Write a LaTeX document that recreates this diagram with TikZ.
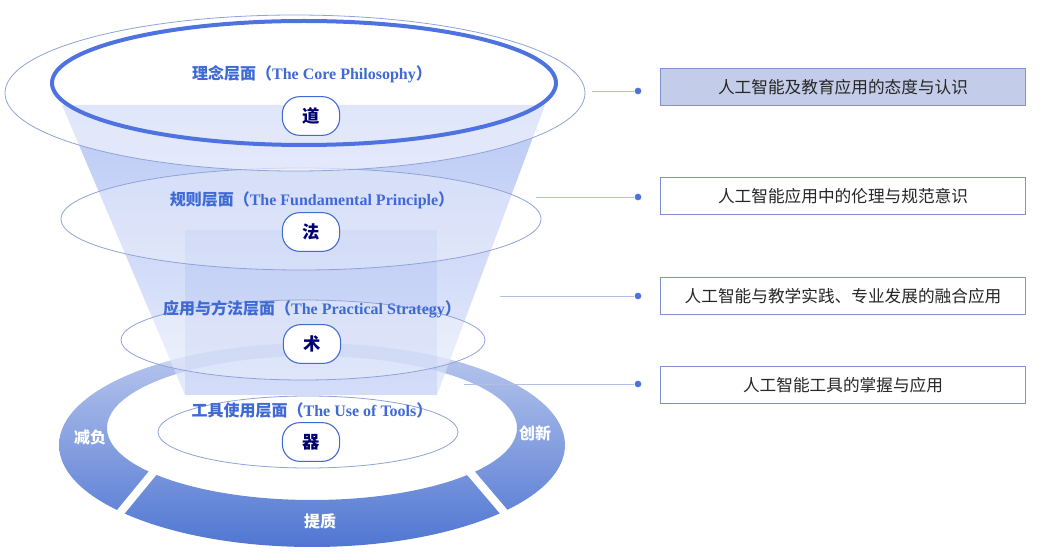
\documentclass[tikz,border=0pt]{standalone}
\usepackage{fontspec}
\setmainfont{Liberation Serif}
\newfontfamily\cjk{Noto Sans CJK SC}
\definecolor{labc}{HTML}{3F6AD4}
\definecolor{ringtop}{HTML}{BCC9EE}
\definecolor{ringbot}{HTML}{4F76D2}
\definecolor{funtop}{HTML}{9DB2F0}
\definecolor{funbot}{HTML}{DCE4FA}
\definecolor{edgec}{HTML}{8FA3D8}
\definecolor{boxc}{HTML}{7F93C8}
\definecolor{boxf}{HTML}{C3CCE8}
\definecolor{ringc}{HTML}{4E72E0}
\begin{document}
\begin{tikzpicture}[x=0.75pt,y=-0.75pt,
 lay/.style={draw=edgec,line width=0.6pt,fill=white,fill opacity=0.3},
 lab/.style={text=labc,font=\fontsize{12}{14}\selectfont\bfseries},
 badge/.style={draw=labc,line width=0.8pt,fill=white,rounded corners=13pt,minimum width=43pt,minimum height=29pt,text=blue!45!black,font=\cjk\fontsize{13}{15}\selectfont\bfseries},
 box/.style={draw=boxc,line width=1.1pt,fill=white,minimum width=274pt,minimum height=28pt,font=\cjk\fontsize{12.5}{15}\selectfont,text=black!85},
 seg/.style={text=white,font=\cjk\fontsize{12}{14}\selectfont\bfseries},
 dot/.style={circle,fill=ringc,inner sep=0pt,minimum size=5pt},
 con/.style={draw=edgec!70,line width=0.6pt}]
\useasboundingbox (0,0) rectangle (1040,556);
% ring
\path[even odd rule,top color=ringtop,bottom color=ringbot]
 (312,445) ellipse [x radius=253,y radius=102] (312,428) ellipse [x radius=205,y radius=72];
\draw[white,line width=6pt] (165,458) -- (110,525);
\draw[white,line width=6pt] (458,458) -- (515,525);
\node[seg] (s1) at (90,437) {减负};
\node[seg] (s2) at (535,433) {创新};
\node[seg] (s3) at (320,521) {提质};
% funnel
\path[top color=funtop,bottom color=funbot,fill opacity=0.7]
 (62,105) -- (545,105) -- (437,395) -- (185,395) -- cycle;
\path[fill=funtop,fill opacity=0.25] (185,230) rectangle (437,395);
% layers
\path[lay] (308,432) ellipse [x radius=150,y radius=36];
\path[lay] (303,340) ellipse [x radius=182,y radius=40];
\path[lay] (301,219) ellipse [x radius=240,y radius=51];
\path[lay,fill opacity=0.55] (295,93) ellipse [x radius=290,y radius=78];
\draw[line width=3pt,draw=ringc] (304,83) ellipse [x radius=252,y radius=62];
% labels
\node[lab] (t1) at (312,74) {{\cjk 理念层面（}The Core Philosophy{\cjk ）}};
\node[lab] (t2) at (312,200) {{\cjk 规则层面（}The Fundamental Principle{\cjk ）}};
\node[lab] (t3) at (312,309) {{\cjk 应用与方法层面（}The Practical Strategy{\cjk ）}};
\node[lab] (t4) at (312,410) {{\cjk 工具使用层面（}The Use of Tools{\cjk ）}};
\node[badge] (b1) at (311,116) {道};
\node[badge] (b2) at (311,232) {法};
\node[badge] (b3) at (312,344) {术};
\node[badge] (b4) at (311,442) {器};
% boxes
\node[box,fill=boxf] (r1) at (843,87) {人工智能及教育应用的态度与认识};
\node[box] (r2) at (843,196) {人工智能应用中的伦理与规范意识};
\node[box] (r3) at (843,296) {人工智能与教学实践、专业发展的融合应用};
\node[box] (r4) at (843,385) {人工智能工具的掌握与应用};
\node[dot] (d1) at (638,91) {};
\node[dot] (d2) at (638,197) {};
\node[dot] (d3) at (638,296) {};
\node[dot] (d4) at (638,384) {};
\coordinate (c1) at (592,91);
\coordinate (c2) at (536,197);
\coordinate (c3) at (500,296);
\coordinate (c4) at (464,384);
\draw[con] (c1) -- (d1);
\draw[con] (c2) -- (d2);
\draw[con] (c3) -- (d3);
\draw[con] (c4) -- (d4);
\end{tikzpicture}
\end{document}
